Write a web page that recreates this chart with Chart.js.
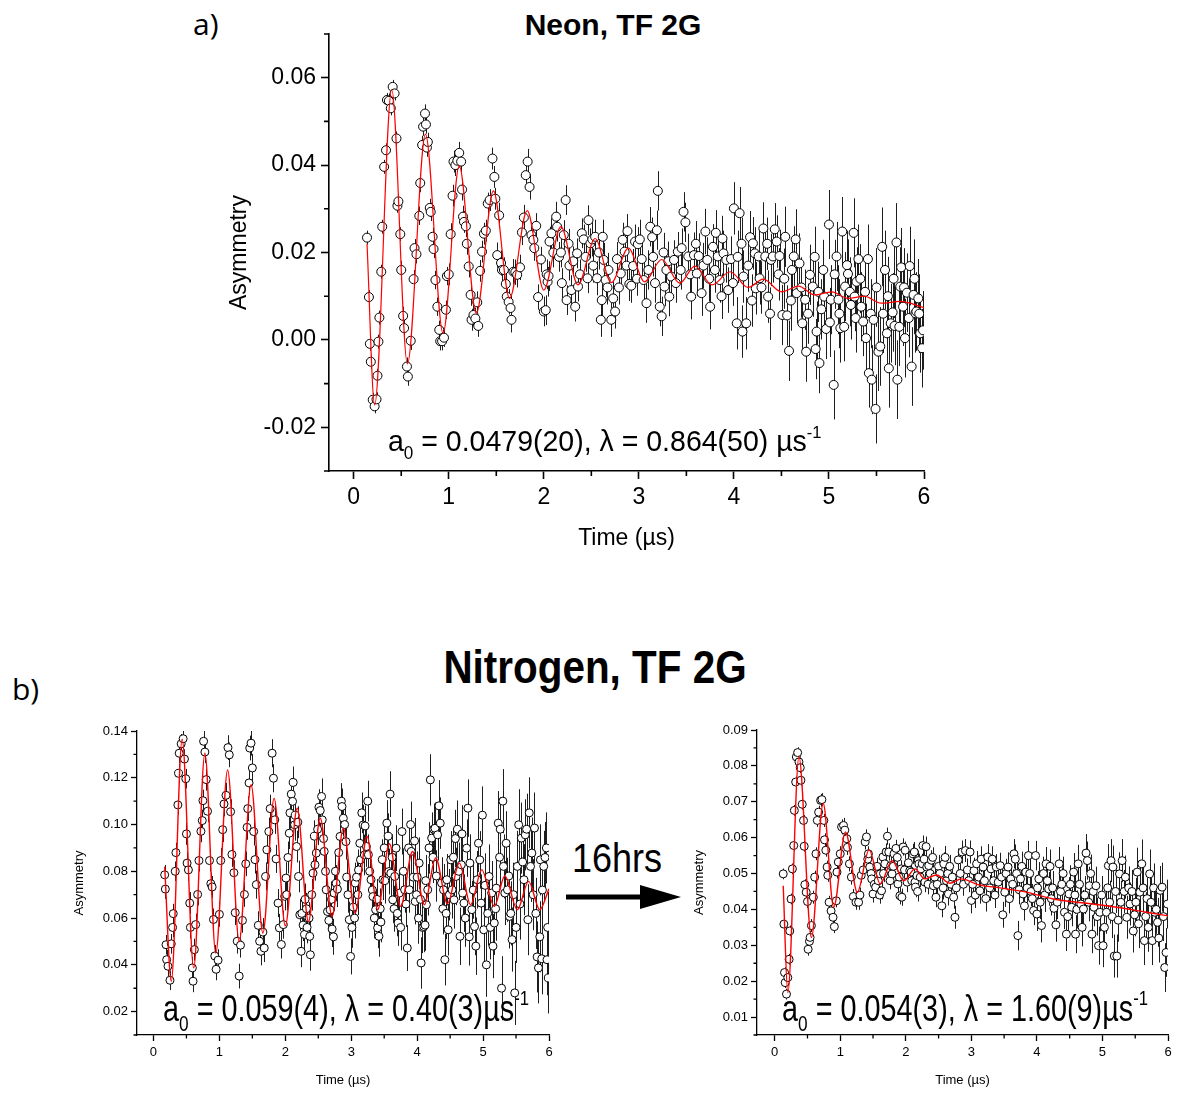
<!DOCTYPE html>
<html><head><meta charset="utf-8">
<script src="https://cdn.jsdelivr.net/npm/chart.js@4.4.1/dist/chart.umd.min.js"></script>
<style>
html,body{margin:0;padding:0;background:#fff;width:1179px;height:1093px;overflow:hidden;}
body{position:relative;font-family:"Liberation Sans",Arial,sans-serif;color:#000;}
canvas{position:absolute;}
.t{position:absolute;white-space:nowrap;line-height:1;color:#000;}
.t sub{font-size:60%;vertical-align:-0.45em;line-height:0;}
.t sup{font-size:58%;vertical-align:0.75em;line-height:0;}
</style></head><body>
<div class="t" style="left:193px;top:9px;font-family:'Open Sans';font-size:30px;">a)</div>
<div class="t" style="left:413px;top:10px;width:400px;text-align:center;font-weight:bold;font-size:30px;">Neon, TF 2G</div>
<div class="t" style="left:12px;top:674px;font-family:'Open Sans';font-size:30px;">b)</div>
<div class="t" style="left:395px;top:643px;width:400px;text-align:center;font-weight:bold;font-size:47px;transform:scaleX(0.86);">Nitrogen, TF 2G</div>
<div class="t" style="left:572px;top:838px;font-size:40px;transform:scaleX(0.9);transform-origin:left top;">16hrs</div>
<svg style="position:absolute;left:560px;top:880px;" width="130" height="36">
  <line x1="6" y1="17" x2="84" y2="17" stroke="#000" stroke-width="5"/>
  <polygon points="80,5 121,17 80,29" fill="#000"/>
</svg>
<canvas id="cA" width="744" height="546" style="left:200px;top:14px;width:744px;height:546px"></canvas>
<canvas id="cB1" width="529" height="382" style="left:40px;top:711px;width:529px;height:382px"></canvas>
<canvas id="cB2" width="519" height="383" style="left:660px;top:710px;width:519px;height:383px"></canvas>
<div class="t" style="left:388px;top:426px;font-size:30px;transform:scaleX(0.95);transform-origin:left top;">a<sub>0</sub> = 0.0479(20), λ = 0.864(50) µs<sup>-1</sup></div>
<div class="t" style="left:163px;top:991px;font-size:36px;transform:scaleX(0.8);transform-origin:left top;">a<sub>0</sub> = 0.059(4), λ = 0.40(3)µs<sup>-1</sup></div>
<div class="t" style="left:782px;top:991px;font-size:36px;transform:scaleX(0.8);transform-origin:left top;">a<sub>0</sub> = 0.054(3), λ = 1.60(9)µs<sup>-1</sup></div>
<script>
// ---------------- DATA ----------------
// a) Neon, TF 2G : [time (µs), asymmetry]
const neonPoints = [[0.14,0.0234],[0.16,0.0098],[0.17,-0.0009],[0.18,-0.0050],[0.20,-0.0137],[0.22,-0.0152],[0.24,-0.0136],[0.25,-0.0082],[0.26,-0.0004],[0.27,0.0051],[0.29,0.0156],[0.30,0.0259],[0.32,0.0396],[0.34,0.0434],[0.35,0.0549],[0.37,0.0547],[0.39,0.0530],[0.41,0.0579],[0.43,0.0564],[0.45,0.0461],[0.46,0.0307],[0.47,0.0317],[0.49,0.0242],[0.50,0.0160],[0.52,0.0055],[0.53,0.0027],[0.56,-0.0061],[0.57,-0.0084],[0.60,-0.0002],[0.63,0.0139],[0.64,0.0210],[0.66,0.0196],[0.69,0.0284],[0.70,0.0359],[0.72,0.0446],[0.73,0.0488],[0.75,0.0518],[0.76,0.0493],[0.77,0.0440],[0.78,0.0453],[0.80,0.0302],[0.81,0.0293],[0.83,0.0236],[0.84,0.0208],[0.86,0.0137],[0.88,0.0076],[0.90,0.0023],[0.91,-0.0003],[0.93,-0.0003],[0.95,0.0005],[0.97,0.0069],[0.98,0.0146],[1.00,0.0150],[1.02,0.0242],[1.04,0.0330],[1.05,0.0408],[1.07,0.0400],[1.09,0.0410],[1.11,0.0428],[1.13,0.0408],[1.14,0.0344],[1.15,0.0282],[1.16,0.0270],[1.18,0.0260],[1.19,0.0220],[1.21,0.0168],[1.23,0.0103],[1.24,0.0046],[1.26,0.0057],[1.28,0.0049],[1.30,0.0086],[1.31,0.0032],[1.33,0.0158],[1.35,0.0202],[1.37,0.0243],[1.39,0.0250],[1.41,0.0312],[1.43,0.0320],[1.46,0.0415],[1.48,0.0373],[1.49,0.0323],[1.51,0.0194],[1.53,0.0285],[1.55,0.0176],[1.56,0.0160],[1.58,0.0160],[1.60,0.0128],[1.61,0.0099],[1.63,0.0087],[1.65,0.0073],[1.66,0.0046],[1.68,0.0156],[1.70,0.0155],[1.72,0.0149],[1.75,0.0166],[1.77,0.0246],[1.79,0.0280],[1.81,0.0377],[1.83,0.0408],[1.85,0.0350],[1.87,0.0240],[1.89,0.0229],[1.90,0.0210],[1.92,0.0261],[1.94,0.0098],[1.97,0.0184],[2.00,0.0065],[2.02,0.0068],[2.03,0.0150],[2.04,0.0133],[2.05,0.0146],[2.06,0.0225],[2.08,0.0244],[2.10,0.0200],[2.13,0.0282],[2.14,0.0259],[2.16,0.0190],[2.18,0.0200],[2.19,0.0130],[2.21,0.0240],[2.23,0.0320],[2.24,0.0091],[2.26,0.0220],[2.27,0.0170],[2.29,0.0114],[2.31,0.0180],[2.33,0.0076],[2.35,0.0198],[2.36,0.0122],[2.38,0.0150],[2.40,0.0244],[2.42,0.0230],[2.44,0.0190],[2.46,0.0141],[2.47,0.0274],[2.49,0.0221],[2.51,0.0230],[2.52,0.0170],[2.54,0.0236],[2.56,0.0141],[2.58,0.0200],[2.60,0.0046],[2.61,0.0091],[2.62,0.0236],[2.63,0.0183],[2.65,0.0137],[2.67,0.0120],[2.68,0.0160],[2.71,0.0046],[2.73,0.0095],[2.75,0.0065],[2.77,0.0185],[2.79,0.0120],[2.81,0.0152],[2.83,0.0229],[2.85,0.0202],[2.87,0.0170],[2.88,0.0249],[2.90,0.0128],[2.92,0.0124],[2.94,0.0169],[2.96,0.0225],[2.98,0.0140],[2.99,0.0219],[3.01,0.0230],[3.03,0.0185],[3.05,0.0137],[3.08,0.0084],[3.10,0.0160],[3.12,0.0259],[3.14,0.0235],[3.15,0.0190],[3.17,0.0130],[3.19,0.0251],[3.20,0.0341],[3.22,0.0076],[3.24,0.0054],[3.26,0.0200],[3.27,0.0122],[3.29,0.0160],[3.31,0.0180],[3.32,0.0099],[3.34,0.0145],[3.37,0.0183],[3.39,0.0130],[3.41,0.0202],[3.44,0.0160],[3.45,0.0210],[3.47,0.0293],[3.49,0.0269],[3.52,0.0191],[3.54,0.0150],[3.55,0.0099],[3.58,0.0194],[3.60,0.0220],[3.61,0.0152],[3.63,0.0192],[3.66,0.0107],[3.68,0.0170],[3.70,0.0248],[3.72,0.0183],[3.74,0.0140],[3.75,0.0076],[3.78,0.0213],[3.80,0.0160],[3.81,0.0245],[3.83,0.0191],[3.85,0.0137],[3.87,0.0100],[3.88,0.0232],[3.89,0.0198],[3.92,0.0183],[3.94,0.0114],[3.97,0.0185],[3.99,0.0130],[4.00,0.0301],[4.03,0.0038],[4.04,0.0190],[4.06,0.0290],[4.08,0.0220],[4.09,0.0019],[4.10,0.0145],[4.13,0.0038],[4.15,0.0170],[4.17,0.0235],[4.19,0.0090],[4.20,0.0221],[4.22,0.0198],[4.23,0.0118],[4.26,0.0191],[4.27,0.0141],[4.29,0.0120],[4.31,0.0255],[4.33,0.0191],[4.35,0.0220],[4.36,0.0099],[4.38,0.0060],[4.39,0.0183],[4.41,0.0191],[4.43,0.0253],[4.45,0.0225],[4.47,0.0150],[4.48,0.0192],[4.51,0.0057],[4.53,0.0140],[4.54,0.0236],[4.56,0.0056],[4.58,-0.0025],[4.60,0.0090],[4.61,0.0160],[4.63,0.0191],[4.65,0.0230],[4.66,0.0107],[4.69,0.0175],[4.71,0.0120],[4.72,0.0038],[4.75,0.0092],[4.76,-0.0027],[4.78,0.0060],[4.80,0.0149],[4.83,0.0122],[4.85,0.0190],[4.86,-0.0021],[4.87,0.0019],[4.89,0.0110],[4.90,-0.0053],[4.92,0.0070],[4.94,0.0160],[4.95,0.0099],[4.97,0.0025],[5.00,0.0264],[5.01,0.0040],[5.02,0.0092],[5.05,-0.0103],[5.06,0.0150],[5.08,0.0191],[5.10,0.0092],[5.11,0.0060],[5.12,0.0027],[5.14,0.0248],[5.16,0.0030],[5.17,0.0122],[5.19,0.0171],[5.20,0.0151],[5.22,0.0110],[5.23,0.0080],[5.26,0.0245],[5.27,0.0099],[5.28,0.0050],[5.29,0.0133],[5.31,0.0185],[5.33,0.0140],[5.34,0.0076],[5.36,0.0042],[5.38,0.0110],[5.39,0.0004],[5.41,0.0185],[5.42,-0.0076],[5.44,0.0060],[5.45,-0.0091],[5.47,0.0046],[5.49,-0.0158],[5.50,0.0120],[5.52,-0.0027],[5.54,-0.0015],[5.56,0.0213],[5.57,0.0060],[5.59,0.0160],[5.61,0.0015],[5.62,0.0100],[5.63,-0.0065],[5.65,0.0038],[5.67,0.0063],[5.68,0.0140],[5.69,0.0032],[5.71,0.0223],[5.72,-0.0091],[5.74,0.0030],[5.75,0.0122],[5.76,0.0166],[5.78,0.0076],[5.79,0.0120],[5.80,0.0004],[5.82,0.0108],[5.84,0.0050],[5.85,0.0169],[5.87,-0.0061],[5.89,0.0103],[5.90,0.0140],[5.91,0.0061],[5.92,0.0065],[5.94,0.0095],[5.95,0.0060],[5.96,0.0015],[5.98,-0.0019],[5.99,0.0022]];
// fitted curve read at its turning points
const neonFit = [[0.14,0.0220],[0.22,-0.0149],[0.40,0.0573],[0.565,-0.0055],[0.755,0.0471],[0.94,0.0015],[1.11,0.0398],[1.29,0.0061],[1.47,0.0341],[1.64,0.0095],[1.825,0.0296],[2.00,0.0114],[2.18,0.0259],[2.36,0.0126],[2.54,0.0232],[2.71,0.0131],[2.89,0.0210],[3.06,0.0133],[3.24,0.0184],[3.43,0.0130],[3.59,0.0169],[3.77,0.0126],[3.96,0.0156],[4.15,0.0120],[4.31,0.0139],[4.50,0.0110],[4.68,0.0123],[4.85,0.0103],[5.03,0.0110],[5.20,0.0095],[5.37,0.0100],[5.55,0.0084],[5.75,0.0088],[6.00,0.0074]];
// error bar half-lengths, one value per 0.5 µs block
const neonErr = [0.0016,0.0021,0.0025,0.0029,0.0034,0.0039,0.0045,0.0052,0.0060,0.0069,0.0079,0.0090];
const neonXTicks = [0,1,2,3,4,5,6];
const neonXMinor = [0.5,1.5,2.5,3.5,4.5,5.5];
const neonYTicks = [-0.02,0,0.02,0.04,0.06];
const neonYTickLabels = ['-0.02','0.00','0.02','0.04','0.06'];
const neonYMinor = [-0.03,-0.01,0.01,0.03,0.05,0.07];

// b) Nitrogen, TF 2G, first run
const n2Points = [[0.17,0.0785],[0.18,0.0724],[0.19,0.0486],[0.20,0.0422],[0.22,0.0394],[0.25,0.0334],[0.27,0.0490],[0.29,0.0560],[0.30,0.0619],[0.33,0.0800],[0.34,0.0880],[0.37,0.1084],[0.38,0.1219],[0.39,0.1305],[0.42,0.1345],[0.45,0.1367],[0.47,0.1280],[0.49,0.1196],[0.50,0.0960],[0.51,0.0835],[0.53,0.0806],[0.55,0.0664],[0.56,0.0560],[0.59,0.0387],[0.60,0.0330],[0.62,0.0465],[0.64,0.0572],[0.67,0.0701],[0.69,0.0846],[0.72,0.0971],[0.74,0.1017],[0.75,0.1102],[0.76,0.1356],[0.78,0.1310],[0.80,0.1192],[0.82,0.1057],[0.85,0.0846],[0.87,0.0747],[0.89,0.0733],[0.91,0.0594],[0.93,0.0438],[0.95,0.0381],[0.98,0.0420],[1.00,0.0616],[1.02,0.0846],[1.05,0.0978],[1.07,0.1088],[1.10,0.1125],[1.13,0.1329],[1.15,0.1298],[1.17,0.1055],[1.19,0.0872],[1.22,0.0794],[1.24,0.0623],[1.27,0.0501],[1.30,0.0352],[1.32,0.0484],[1.35,0.0590],[1.38,0.0701],[1.40,0.0832],[1.42,0.0988],[1.43,0.1068],[1.45,0.1178],[1.46,0.1327],[1.48,0.1348],[1.50,0.1242],[1.52,0.0970],[1.54,0.0850],[1.56,0.0743],[1.59,0.0569],[1.61,0.0501],[1.63,0.0458],[1.66,0.0540],[1.68,0.0472],[1.70,0.0778],[1.72,0.0892],[1.75,0.0970],[1.77,0.1068],[1.80,0.1305],[1.82,0.1198],[1.84,0.1020],[1.86,0.0853],[1.89,0.0664],[1.91,0.0558],[1.94,0.0487],[1.97,0.0572],[1.99,0.0693],[2.01,0.0771],[2.02,0.0700],[2.04,0.0859],[2.06,0.0963],[2.07,0.1050],[2.09,0.1130],[2.11,0.1099],[2.12,0.1180],[2.14,0.0999],[2.15,0.1040],[2.17,0.0906],[2.19,0.1010],[2.20,0.0778],[2.22,0.0614],[2.24,0.0458],[2.25,0.0620],[2.27,0.0570],[2.29,0.0530],[2.30,0.0680],[2.32,0.0640],[2.33,0.0560],[2.36,0.0600],[2.37,0.0522],[2.38,0.0443],[2.40,0.0700],[2.42,0.0792],[2.44,0.0950],[2.45,0.0828],[2.47,0.0878],[2.49,0.0980],[2.51,0.1074],[2.53,0.1060],[2.55,0.1120],[2.56,0.1020],[2.58,0.0940],[2.59,0.0885],[2.61,0.0800],[2.62,0.0721],[2.64,0.0628],[2.66,0.0590],[2.68,0.0635],[2.70,0.0680],[2.71,0.0553],[2.73,0.0520],[2.74,0.0707],[2.76,0.0800],[2.77,0.0749],[2.79,0.0724],[2.81,0.0880],[2.83,0.0949],[2.85,0.1100],[2.86,0.1077],[2.88,0.1027],[2.90,0.1000],[2.92,0.0927],[2.93,0.0775],[2.95,0.0700],[2.97,0.0593],[2.99,0.0436],[3.01,0.0560],[3.03,0.0647],[3.05,0.0600],[3.06,0.0750],[3.08,0.0775],[3.10,0.0700],[3.11,0.0806],[3.13,0.0920],[3.14,0.0849],[3.16,0.1050],[3.18,0.0998],[3.20,0.0870],[3.21,0.0994],[3.23,0.0906],[3.25,0.1100],[3.26,0.0871],[3.28,0.0800],[3.30,0.0764],[3.32,0.0720],[3.33,0.0692],[3.35,0.0600],[3.37,0.0636],[3.39,0.0680],[3.40,0.0558],[3.42,0.0522],[3.44,0.0640],[3.45,0.0583],[3.47,0.0850],[3.48,0.0764],[3.50,0.0900],[3.51,0.0760],[3.54,0.1006],[3.56,0.0950],[3.57,0.0799],[3.59,0.1130],[3.60,0.0792],[3.62,0.0860],[3.63,0.0678],[3.65,0.0640],[3.66,0.0778],[3.68,0.0899],[3.70,0.0620],[3.71,0.0579],[3.73,0.0707],[3.75,0.0560],[3.77,0.0970],[3.79,0.0800],[3.81,0.0721],[3.83,0.0660],[3.85,0.0472],[3.87,0.0900],[3.88,0.0721],[3.90,0.1000],[3.91,0.0885],[3.94,0.0775],[3.96,0.0930],[3.97,0.0671],[3.99,0.0700],[4.00,0.0775],[4.02,0.0600],[4.03,0.0835],[4.05,0.0680],[4.06,0.0408],[4.08,0.0560],[4.10,0.0564],[4.12,0.0570],[4.13,0.0760],[4.14,0.0657],[4.16,0.0721],[4.18,0.0900],[4.20,0.1191],[4.22,0.0942],[4.24,0.0860],[4.25,0.0980],[4.27,0.0984],[4.29,0.0780],[4.31,0.0956],[4.33,0.1080],[4.35,0.1006],[4.37,0.0750],[4.39,0.0640],[4.40,0.0721],[4.42,0.0422],[4.44,0.0620],[4.45,0.0764],[4.47,0.0550],[4.49,0.0700],[4.51,0.0849],[4.53,0.0721],[4.55,0.0860],[4.56,0.0678],[4.58,0.0940],[4.59,0.0778],[4.61,0.0980],[4.63,0.0800],[4.65,0.0522],[4.67,0.0828],[4.68,0.0960],[4.69,0.0707],[4.71,0.0664],[4.73,0.0600],[4.75,0.0899],[4.77,0.1070],[4.79,0.0520],[4.80,0.0835],[4.83,0.0636],[4.85,0.0720],[4.87,0.0564],[4.89,0.0480],[4.91,0.0764],[4.93,0.0920],[4.95,0.0849],[4.97,0.0664],[4.99,0.1040],[5.01,0.0550],[5.03,0.0740],[5.05,0.0400],[5.07,0.0620],[5.09,0.0778],[5.11,0.0560],[5.13,0.0707],[5.15,0.0480],[5.17,0.0579],[5.19,0.0640],[5.20,0.0728],[5.23,0.1006],[5.25,0.0860],[5.26,0.0980],[5.28,0.0300],[5.30,0.1100],[5.31,0.0821],[5.33,0.0707],[5.35,0.0920],[5.37,0.0721],[5.39,0.0780],[5.40,0.0607],[5.42,0.0620],[5.44,0.0508],[5.46,0.0700],[5.48,0.0280],[5.50,0.0560],[5.52,0.0821],[5.54,0.0999],[5.56,0.0660],[5.58,0.0942],[5.60,0.0840],[5.62,0.0764],[5.64,0.0956],[5.66,0.0980],[5.68,0.0593],[5.70,0.1050],[5.72,0.0821],[5.74,0.0878],[5.76,0.0700],[5.78,0.0985],[5.80,0.0620],[5.82,0.0434],[5.84,0.0387],[5.86,0.0520],[5.87,0.0849],[5.89,0.0426],[5.90,0.0720],[5.92,0.0821],[5.94,0.0859],[5.96,0.0900],[5.97,0.0422],[5.98,0.0560],[5.99,0.0344]];
const n2Fit = [[0.17,0.082],[0.27,0.033],[0.435,0.1365],[0.61,0.0387],[0.78,0.1305],[0.945,0.045],[1.125,0.1233],[1.30,0.050],[1.48,0.117],[1.66,0.0536],[1.83,0.1112],[2.00,0.0567],[2.18,0.107],[2.35,0.0585],[2.53,0.1027],[2.71,0.0607],[2.88,0.0984],[3.06,0.0622],[3.24,0.0949],[3.40,0.0636],[3.58,0.0918],[3.75,0.065],[3.93,0.0885],[4.11,0.0657],[4.28,0.0857],[4.46,0.0661],[4.64,0.0835],[4.81,0.0657],[4.98,0.0806],[5.17,0.065],[5.33,0.078],[5.52,0.0636],[5.69,0.0757],[5.86,0.0636],[6.00,0.0725]];
const n2Err = [0.0042,0.0047,0.0053,0.0060,0.0068,0.0077,0.0087,0.0098,0.0110,0.0123,0.0137,0.0152];
const n2XTicks = [0,1,2,3,4,5,6];
const n2XMinor = [0.5,1.5,2.5,3.5,4.5,5.5];
const n2YTicks = [0.02,0.04,0.06,0.08,0.10,0.12,0.14];
const n2YTickLabels = ['0.02','0.04','0.06','0.08','0.10','0.12','0.14'];
const n2YMinor = [0.01,0.03,0.05,0.07,0.09,0.11,0.13];

// b) Nitrogen, TF 2G, after 16 hrs
const n2LatePoints = [[0.13,0.0499],[0.14,0.0359],[0.15,0.0224],[0.16,0.0196],[0.18,0.0164],[0.20,0.0210],[0.22,0.0261],[0.23,0.0340],[0.25,0.0429],[0.27,0.0513],[0.29,0.0578],[0.30,0.0676],[0.32,0.0755],[0.33,0.0825],[0.35,0.0837],[0.37,0.0811],[0.39,0.0795],[0.40,0.0760],[0.42,0.0693],[0.44,0.0648],[0.45,0.0576],[0.46,0.0469],[0.48,0.0448],[0.50,0.0422],[0.51,0.0289],[0.53,0.0311],[0.54,0.0322],[0.56,0.0355],[0.59,0.0434],[0.61,0.0490],[0.63,0.0555],[0.65,0.0648],[0.67,0.0671],[0.70,0.0704],[0.72,0.0706],[0.75,0.0648],[0.76,0.0594],[0.78,0.0565],[0.80,0.0518],[0.81,0.0495],[0.83,0.0420],[0.86,0.0396],[0.89,0.0378],[0.91,0.0352],[0.94,0.0424],[0.95,0.0504],[0.97,0.0532],[1.00,0.0555],[1.02,0.0630],[1.05,0.0634],[1.07,0.0621],[1.10,0.0597],[1.11,0.0573],[1.14,0.0527],[1.17,0.0490],[1.20,0.0436],[1.24,0.0420],[1.28,0.0420],[1.30,0.0440],[1.32,0.0495],[1.35,0.0510],[1.38,0.0588],[1.40,0.0602],[1.42,0.0540],[1.43,0.0555],[1.45,0.0518],[1.47,0.0500],[1.48,0.0485],[1.50,0.0443],[1.52,0.0470],[1.54,0.0462],[1.56,0.0520],[1.58,0.0480],[1.60,0.0440],[1.61,0.0499],[1.63,0.0452],[1.65,0.0546],[1.66,0.0500],[1.68,0.0527],[1.70,0.0560],[1.72,0.0604],[1.74,0.0560],[1.76,0.0480],[1.77,0.0522],[1.79,0.0499],[1.81,0.0520],[1.82,0.0555],[1.85,0.0570],[1.87,0.0545],[1.88,0.0471],[1.90,0.0490],[1.91,0.0438],[1.93,0.0513],[1.94,0.0434],[1.96,0.0574],[1.98,0.0510],[1.99,0.0565],[2.02,0.0476],[2.04,0.0530],[2.06,0.0508],[2.08,0.0504],[2.09,0.0480],[2.11,0.0555],[2.13,0.0560],[2.14,0.0476],[2.15,0.0462],[2.17,0.0494],[2.18,0.0450],[2.19,0.0536],[2.20,0.0527],[2.22,0.0490],[2.23,0.0513],[2.25,0.0527],[2.26,0.0578],[2.28,0.0540],[2.29,0.0476],[2.31,0.0575],[2.32,0.0518],[2.34,0.0470],[2.35,0.0522],[2.37,0.0500],[2.39,0.0537],[2.41,0.0545],[2.42,0.0466],[2.44,0.0490],[2.46,0.0434],[2.48,0.0470],[2.50,0.0520],[2.52,0.0500],[2.55,0.0410],[2.57,0.0460],[2.58,0.0527],[2.60,0.0545],[2.62,0.0480],[2.64,0.0500],[2.65,0.0443],[2.67,0.0520],[2.69,0.0470],[2.71,0.0490],[2.73,0.0434],[2.75,0.0378],[2.77,0.0460],[2.80,0.0538],[2.83,0.0500],[2.86,0.0560],[2.88,0.0470],[2.91,0.0564],[2.94,0.0510],[2.96,0.0480],[2.98,0.0560],[3.00,0.0425],[3.02,0.0470],[3.04,0.0508],[3.06,0.0440],[3.08,0.0527],[3.11,0.0490],[3.13,0.0452],[3.15,0.0540],[3.18,0.0518],[3.20,0.0480],[3.22,0.0430],[3.25,0.0546],[3.28,0.0460],[3.30,0.0513],[3.32,0.0540],[3.34,0.0480],[3.36,0.0440],[3.38,0.0518],[3.41,0.0476],[3.44,0.0522],[3.46,0.0490],[3.48,0.0385],[3.51,0.0448],[3.53,0.0500],[3.56,0.0518],[3.58,0.0430],[3.60,0.0485],[3.63,0.0470],[3.65,0.0555],[3.67,0.0540],[3.69,0.0500],[3.71,0.0327],[3.73,0.0455],[3.75,0.0485],[3.77,0.0520],[3.79,0.0443],[3.81,0.0410],[3.83,0.0504],[3.85,0.0460],[3.87,0.0550],[3.89,0.0500],[3.91,0.0450],[3.93,0.0430],[3.95,0.0397],[3.98,0.0550],[4.00,0.0387],[4.01,0.0460],[4.03,0.0485],[4.05,0.0420],[4.07,0.0355],[4.10,0.0500],[4.12,0.0440],[4.14,0.0527],[4.16,0.0480],[4.18,0.0457],[4.20,0.0520],[4.22,0.0430],[4.24,0.0460],[4.26,0.0403],[4.29,0.0357],[4.31,0.0420],[4.34,0.0527],[4.36,0.0450],[4.38,0.0470],[4.40,0.0500],[4.42,0.0392],[4.45,0.0331],[4.47,0.0380],[4.49,0.0443],[4.51,0.0470],[4.53,0.0406],[4.56,0.0504],[4.58,0.0440],[4.59,0.0331],[4.61,0.0400],[4.63,0.0527],[4.65,0.0470],[4.67,0.0415],[4.69,0.0350],[4.71,0.0401],[4.73,0.0440],[4.75,0.0557],[4.77,0.0536],[4.79,0.0420],[4.80,0.0466],[4.82,0.0500],[4.84,0.0331],[4.86,0.0450],[4.87,0.0406],[4.90,0.0466],[4.92,0.0380],[4.94,0.0299],[4.96,0.0392],[4.99,0.0440],[5.01,0.0299],[5.03,0.0350],[5.06,0.0392],[5.08,0.0460],[5.09,0.0522],[5.11,0.0420],[5.13,0.0536],[5.15,0.0380],[5.16,0.0518],[5.18,0.0270],[5.20,0.0450],[5.22,0.0270],[5.24,0.0370],[5.26,0.0499],[5.28,0.0420],[5.30,0.0536],[5.33,0.0450],[5.35,0.0490],[5.37,0.0378],[5.40,0.0460],[5.42,0.0415],[5.45,0.0450],[5.47,0.0340],[5.49,0.0385],[5.51,0.0420],[5.53,0.0504],[5.55,0.0360],[5.57,0.0448],[5.60,0.0527],[5.62,0.0460],[5.64,0.0313],[5.66,0.0380],[5.68,0.0430],[5.70,0.0350],[5.72,0.0499],[5.74,0.0420],[5.76,0.0313],[5.78,0.0460],[5.80,0.0392],[5.82,0.0400],[5.84,0.0364],[5.86,0.0320],[5.88,0.0453],[5.91,0.0462],[5.93,0.0380],[5.95,0.0238],[5.97,0.0280],[5.99,0.0415]];
const n2LateFit = [[0.13,0.0466],[0.20,0.0168],[0.37,0.0825],[0.56,0.0322],[0.74,0.0695],[0.90,0.0406],[1.08,0.0616],[1.26,0.0448],[1.44,0.0566],[1.61,0.0471],[1.79,0.0536],[1.97,0.0480],[2.14,0.0513],[2.29,0.0485],[2.47,0.0496],[2.67,0.0473],[2.85,0.0485],[3.10,0.0469],[3.44,0.0460],[3.84,0.0448],[4.25,0.0429],[4.76,0.0417],[5.22,0.0406],[5.67,0.0392],[6.00,0.0382]];
const n2LateErr = [0.0015,0.0018,0.0021,0.0024,0.0028,0.0032,0.0036,0.0041,0.0047,0.0053,0.0060,0.0068];
const n2LateXTicks = [0,1,2,3,4,5,6];
const n2LateXMinor = [0.5,1.5,2.5,3.5,4.5,5.5];
const n2LateYTicks = [0.01,0.02,0.03,0.04,0.05,0.06,0.07,0.08,0.09];
const n2LateYTickLabels = ['0.01','0.02','0.03','0.04','0.05','0.06','0.07','0.08','0.09'];
const n2LateYMinor = [0.005,0.015,0.025,0.035,0.045,0.055,0.065,0.075,0.085];

// ---------------- PLUGINS ----------------
const errorBarPlugin = {
  id: 'errorBars',
  beforeDatasetsDraw(chart, args, o) {
    const ds = chart.data.datasets[1];
    const {ctx, chartArea: a, scales: {x, y}} = chart;
    ctx.save();
    ctx.beginPath(); ctx.rect(a.left, a.top, a.right - a.left, a.bottom - a.top); ctx.clip();
    ctx.strokeStyle = o.color; ctx.lineWidth = o.width;
    ctx.beginPath();
    ds.data.forEach(p => {
      const e = o.table[Math.min(o.table.length - 1, Math.floor(p.x / o.block))];
      const px = Math.round(x.getPixelForValue(p.x)) + 0.5;
      ctx.moveTo(px, y.getPixelForValue(p.y - e));
      ctx.lineTo(px, y.getPixelForValue(p.y + e));
    });
    ctx.stroke();
    ctx.restore();
  }
};
const minorTickPlugin = {
  id: 'minorTicks',
  afterDraw(chart, args, o) {
    const {ctx, chartArea: a, scales: {x, y}} = chart;
    ctx.save(); ctx.strokeStyle = '#000'; ctx.lineWidth = o.width;
    ctx.beginPath();
    o.x.forEach(v => { const px = x.getPixelForValue(v); ctx.moveTo(px, a.bottom); ctx.lineTo(px, a.bottom + o.len); });
    o.y.forEach(v => { const py = y.getPixelForValue(v); ctx.moveTo(a.left, py); ctx.lineTo(a.left - o.len, py); });
    ctx.stroke(); ctx.restore();
  }
};

// ---------------- BUILD ----------------
function makeChart(id, d, s) {
  const toXY = arr => arr.map(p => ({x: p[0], y: p[1]}));
  const font = {family: '"Liberation Sans", Arial, sans-serif', size: s.font};
  return new Chart(document.getElementById(id), {
    type: 'scatter',
    data: {datasets: [
      {label: 'fit', data: toXY(d.fit), showLine: true, borderColor: '#ff0000', borderWidth: s.fitWidth,
       pointRadius: 0, cubicInterpolationMode: 'monotone', order: 0},
      {label: 'data', data: toXY(d.points), showLine: false, pointRadius: s.r, pointHoverRadius: s.r,
       pointBackgroundColor: '#fff', pointBorderColor: '#000', pointBorderWidth: 1, order: 1}
    ]},
    options: {
      responsive: false, animation: false, devicePixelRatio: 1,
      layout: {padding: s.pad},
      plugins: {legend: {display: false}, tooltip: {enabled: false},
        errorBars: {table: d.err, block: 0.5, color: '#1e1e1e', width: 1},
        minorTicks: {x: d.xMinor, y: d.yMinor, len: s.minorLen, width: s.axisWidth}},
      scales: {
        x: {type: 'linear', min: d.xMin, max: d.xMax,
          afterFit: sc => { sc.height = s.xH; },
          afterBuildTicks: sc => { sc.ticks = d.xTicks.map(v => ({value: v})); },
          border: {display: true, color: '#000', width: s.axisWidth},
          grid: {display: true, drawOnChartArea: false, drawTicks: true, tickLength: s.tickLen, tickWidth: s.axisWidth, tickColor: '#000'},
          ticks: {font, color: '#000', padding: s.xPad, maxRotation: 0, autoSkip: false, callback: v => String(v)},
          title: {display: true, text: 'Time (µs)', font, color: '#000', padding: {top: 0, bottom: s.xTitlePad}}
        },
        y: {type: 'linear', min: d.yMin, max: d.yMax,
          afterFit: sc => { sc.width = s.yW; },
          afterBuildTicks: sc => { sc.ticks = d.yTicks.map(v => ({value: v})); },
          border: {display: true, color: '#000', width: s.axisWidth},
          grid: {display: true, drawOnChartArea: false, drawTicks: true, tickLength: s.tickLen, tickWidth: s.axisWidth, tickColor: '#000'},
          ticks: {font, color: '#000', padding: s.yPad, autoSkip: false, callback: (v, i) => d.yLabels[i]},
          title: {display: true, text: 'Asymmetry', font, color: '#000', padding: {top: s.yTitlePad, bottom: 0}}
        }
      }
    },
    plugins: [errorBarPlugin, minorTickPlugin]
  });
}

makeChart('cA',
  {points: neonPoints, fit: neonFit, err: neonErr, xTicks: neonXTicks, xMinor: neonXMinor,
   yTicks: neonYTicks, yLabels: neonYTickLabels, yMinor: neonYMinor, xMin: -0.26, xMax: 6, yMin: -0.03, yMax: 0.07},
  {font: 23, r: 4.5, fitWidth: 1.2, pad: {top: 20, right: 20, left: 0, bottom: 0}, yW: 129, xH: 89,
   tickLen: 8, minorLen: 5, axisWidth: 1.6, xPad: 5, yPad: 5, xTitlePad: 8, yTitlePad: 26});

makeChart('cB1',
  {points: n2Points, fit: n2Fit, err: n2Err, xTicks: n2XTicks, xMinor: n2XMinor,
   yTicks: n2YTicks, yLabels: n2YTickLabels, yMinor: n2YMinor, xMin: -0.25, xMax: 6, yMin: 0.01, yMax: 0.14},
  {font: 13, r: 4, fitWidth: 1.4, pad: {top: 20, right: 20, left: 0, bottom: 0}, yW: 97, xH: 58,
   tickLen: 6, minorLen: 3.5, axisWidth: 1.3, xPad: 4, yPad: 3, xTitlePad: 5, yTitlePad: 32});

makeChart('cB2',
  {points: n2LatePoints, fit: n2LateFit, err: n2LateErr, xTicks: n2LateXTicks, xMinor: n2LateXMinor,
   yTicks: n2LateYTicks, yLabels: n2LateYTickLabels, yMinor: n2LateYMinor, xMin: -0.27, xMax: 6, yMin: 0.005, yMax: 0.09},
  {font: 13, r: 4, fitWidth: 1.4, pad: {top: 20, right: 11, left: 0, bottom: 0}, yW: 97, xH: 58,
   tickLen: 6, minorLen: 3.5, axisWidth: 1.3, xPad: 4, yPad: 3, xTitlePad: 5, yTitlePad: 32});
</script>
</body></html>
